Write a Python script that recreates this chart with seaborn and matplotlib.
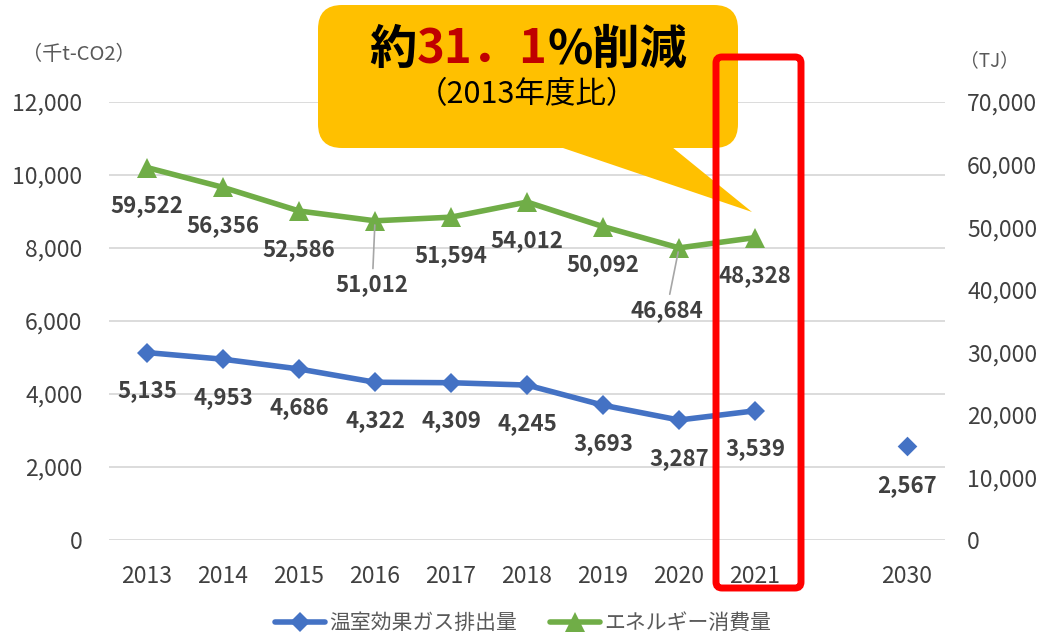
import matplotlib
matplotlib.use("Agg")
import matplotlib.pyplot as plt
import seaborn as sns
from matplotlib.patches import FancyBboxPatch, Polygon
from matplotlib.transforms import IdentityTransform
from matplotlib.offsetbox import TextArea, HPacker, AnnotationBbox
from matplotlib.ticker import FuncFormatter, MultipleLocator

# data
years = ['2013', '2014', '2015', '2016', '2017', '2018', '2019', '2020', '2021', '2030']
ghg = [5135, 4953, 4686, 4322, 4309, 4245, 3693, 3287, 3539]          # 千t-CO2, 2013-2021
ghg_2030 = 2567                                                       # target
energy = [59522, 56356, 52586, 51012, 51594, 54012, 50092, 46684, 48328]  # TJ, 2013-2021

ghg_name = '温室効果ガス排出量'
energy_name = 'エネルギー消費量'

# 2030 sits one empty slot after 2021
pos = list(range(len(years) - 1)) + [len(years)]

W, H = 1043, 637
BLUE = '#4472C4'
GREEN = '#70AD47'
LABEL_C = '#404040'
TICK_C = '#404040'

sns.set_theme(style='white')
plt.rcParams['font.family'] = ['Noto Sans CJK JP', 'DejaVu Sans']

fig, ax = plt.subplots(figsize=(W / 100, H / 100), dpi=100)
fig.subplots_adjust(left=109 / W, right=945 / W, bottom=1 - 540 / H, top=1 - 102 / H)
ax2 = ax.twinx()

sns.lineplot(x=pos[:9], y=ghg, ax=ax, color=BLUE, linewidth=4, marker='D',
             markersize=10, markeredgewidth=0, label=ghg_name)
sns.scatterplot(x=[pos[9]], y=[ghg_2030], ax=ax, color=BLUE, marker='D', s=100,
                linewidth=0)
sns.lineplot(x=pos[:9], y=energy, ax=ax2, color=GREEN, linewidth=4, marker='^',
             markersize=14, markeredgewidth=0, label=energy_name)

for a in (ax, ax2):
    if a.get_legend():
        a.get_legend().remove()
    for s in a.spines.values():
        s.set_visible(False)

ax.set_xlim(-0.5, 10.5)
ax.set_ylim(0, 12000)
ax2.set_ylim(0, 70000)
ax.yaxis.set_major_locator(MultipleLocator(2000))
ax2.yaxis.set_major_locator(MultipleLocator(10000))
fmt = FuncFormatter(lambda v, _: f'{v:,.0f}')
ax.yaxis.set_major_formatter(fmt)
ax2.yaxis.set_major_formatter(fmt)
ax.set_xticks(pos)
ax.set_xticklabels(years)
ax.grid(axis='y', color='#D9D9D9', linewidth=1.3)
ax.grid(axis='x', visible=False)
ax2.grid(False)
ax.set_xlabel('')
ax.set_ylabel('')
ax2.set_ylabel('')
ax.tick_params(axis='y', length=0, labelsize=16.5, labelcolor=TICK_C, pad=19)
ax.tick_params(axis='x', length=0, labelsize=16.5, labelcolor=TICK_C, pad=18)
ax2.tick_params(axis='y', length=0, labelsize=16.5, labelcolor=TICK_C, pad=16)

# data labels
lab_kw = dict(textcoords='offset points', ha='center', va='center', fontsize=16,
              color=LABEL_C, fontweight='bold')
for x, v in zip(pos[:9], ghg):
    ax.annotate(f'{v:,}', (x, v), xytext=(0, -27.5), **lab_kw)
ax.annotate(f'{ghg_2030:,}', (pos[9], ghg_2030), xytext=(0, -28), **lab_kw)

special = {3: (-2, -46), 7: (-9, -45)}
for i, (x, v) in enumerate(zip(pos[:9], energy)):
    if i in special:
        ax2.annotate(f'{v:,}', (x, v), xytext=special[i],
                     arrowprops=dict(arrowstyle='-', color='#A6A6A6', lw=1.2,
                                     shrinkA=1, shrinkB=3), **lab_kw)
    else:
        ax2.annotate(f'{v:,}', (x, v), xytext=(0, -27.5), **lab_kw)

# unit labels
fig.text(22 / W, 1 - 55 / H, '（千t-CO2）', fontsize=14.5, color='#595959', va='center')
fig.text(960 / W, 1 - 61 / H, '（TJ）', fontsize=13.5, color='#595959', va='center')

# callout
px = IdentityTransform()
box = FancyBboxPatch((318, H - 148), 420, 143, boxstyle='round,pad=0,rounding_size=24',
                     facecolor='#FFC000', edgecolor='none', transform=px, zorder=5)
tail = Polygon([(560, H - 147), (672, H - 147), (752, H - 212)], closed=True,
               facecolor='#FFC000', edgecolor='none', transform=px, zorder=5)
fig.add_artist(box)
fig.add_artist(tail)

big = dict(fontsize=34, fontweight='bold')
parts = [TextArea('約', textprops=dict(color='black', **big)),
         TextArea('31．1', textprops=dict(color='#C00000', **big)),
         TextArea('%削減', textprops=dict(color='black', **big))]
pack = HPacker(children=parts, align='baseline', pad=0, sep=0)
ab = AnnotationBbox(pack, (528, H - 50), xycoords='figure pixels', frameon=False,
                    box_alignment=(0.5, 0.5), zorder=6)
fig.add_artist(ab)
fig.text(527 / W, 1 - 95 / H, '（2013年度比）', fontsize=22, color='black',
         ha='center', va='center', zorder=6)

# red frame around 2021
frame = FancyBboxPatch((716, H - 588), 85, 531, boxstyle='round,pad=0,rounding_size=6',
                       facecolor='none', edgecolor='#FF0000', linewidth=5,
                       transform=px, zorder=7)
fig.add_artist(frame)

# legend
h1, l1 = ax.get_legend_handles_labels()
h2, l2 = ax2.get_legend_handles_labels()
fig.legend(h1 + h2, l1 + l2, loc='center', bbox_to_anchor=(523 / W, 1 - 623 / H),
           ncol=2, frameon=False, fontsize=15, handlelength=2.4, handletextpad=0.2,
           columnspacing=1.6, labelcolor='#595959')

fig.savefig('out.png', dpi=100)
